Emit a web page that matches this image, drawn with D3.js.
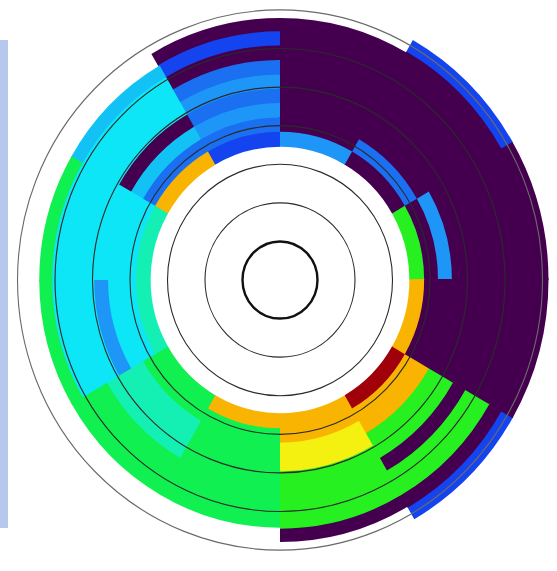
<!DOCTYPE html>
<html>
<head>
<meta charset="utf-8">
<script src="https://cdn.jsdelivr.net/npm/d3@7"></script>
<style>
  html, body { margin: 0; padding: 0; background: #fff; }
  svg { display: block; }
</style>
</head>
<body>
<script>
// Angular bins (degrees, counter-clockwise from east)
const sectorEdges = [0, 30, 60, 90, 120, 150, 180, 210, 240, 270, 300, 330, 360];
// Radial bins (data units)
const ringEdges = [3.45, 3.82, 4.19, 4.56, 4.93, 5.30, 5.68, 6.05, 6.42, 6.79, 7.16];
// Reference circles
const gridRadii = [1, 2, 3, 4, 5, 6, 7];

// Colour level per sector (rows) and ring (inner -> outer); null = empty
const sector000 = [8, 0, 3, 0, 0, 0, 0, 0, 0, 0];
const sector030 = [0, 2, 0, 0, 0, 0, 0, 0, 0, 1];
const sector060 = [3, 0, 0, 0, 0, 0, 0, 0, 0, null];
const sector090 = [1, 2, 3, 2, 3, 2, 0, 1, 0, null];
const sector120 = [10, 2, 4, 0, 5, 5, 5, 4, null, null];
const sector150 = [6, 5, 5, 5, 5, 5, 5, 7, null, null];
const sector180 = [6, 5, 5, 3, 5, 5, 5, 7, null, null];
const sector210 = [7, 7, 6, 6, 6, 7, 7, 7, null, null];
const sector240 = [10, 7, 7, 7, 7, 7, 7, 7, null, null];
const sector270 = [10, 10, 9, 9, 8, 8, 8, 8, 0, null];
const sector300 = [11, 10, 10, 8, 8, 0, 8, 8, 0, 1];
const sector330 = [10, 0, 0, 0, 0, 0, 0, 0, 0, 0];
const levels = [sector000, sector030, sector060, sector090, sector120, sector150,
                sector180, sector210, sector240, sector270, sector300, sector330];

// Discrete colour map for the levels
const levelColors = ["#44004f", "#1444f0", "#1a70f0", "#1e96f8", "#12c2f4", "#0ce6f6",
                     "#14f0b4", "#10f050", "#26f020", "#f4f010", "#f8b400", "#a0000a"];

const W = 557, H = 571;
const cx = 280, cy = 280;

const svg = d3.select("body").append("svg")
  .attr("width", W).attr("height", H);

// window frame strip on the left
svg.append("rect")
  .attr("x", 0).attr("y", 40).attr("width", 8).attr("height", 488)
  .attr("fill", "#b6c8ec");

const rScale = d3.scaleLinear().domain([0, 7]).range([0, 262.5]);
// math angle (deg, ccw from east) -> d3 arc angle (rad, cw from north)
const aScale = d3.scaleLinear().domain([0, 360]).range([Math.PI / 2, Math.PI / 2 - 2 * Math.PI]);
const colour = d3.scaleOrdinal().domain(d3.range(levelColors.length)).range(levelColors);

const g = svg.append("g")
  .attr("transform", `translate(${cx},${cy}) scale(1,1.029)`);

// cells drawn outer ring first; each cell overlaps its outer neighbour slightly
const overlapR = 0.9, overlapA = 0.006;
const cells = [];
for (let j = ringEdges.length - 2; j >= 0; j--) {
  levels.forEach((row, k) => {
    const v = row[j];
    if (v === null) return;
    const hasOuter = j + 1 < row.length && row[j + 1] !== null;
    cells.push({
      v,
      innerRadius: rScale(ringEdges[j]),
      outerRadius: rScale(ringEdges[j + 1]) + (hasOuter ? overlapR : 0),
      startAngle: aScale(sectorEdges[k + 1]) - overlapA,
      endAngle: aScale(sectorEdges[k])
    });
  });
}

const arc = d3.arc();
g.append("g").selectAll("path")
  .data(cells)
  .join("path")
  .attr("d", arc)
  .attr("fill", d => colour(d.v));

g.append("g").selectAll("circle")
  .data(gridRadii)
  .join("circle")
  .attr("r", d => rScale(d))
  .attr("fill", "none")
  .attr("stroke", d => d === 1 ? "#111" : (d === 7 ? "#6a6a6a" : "#2a2a2a"))
  .attr("stroke-width", d => d === 1 ? 2.4 : 1.1);
</script>
</body>
</html>
